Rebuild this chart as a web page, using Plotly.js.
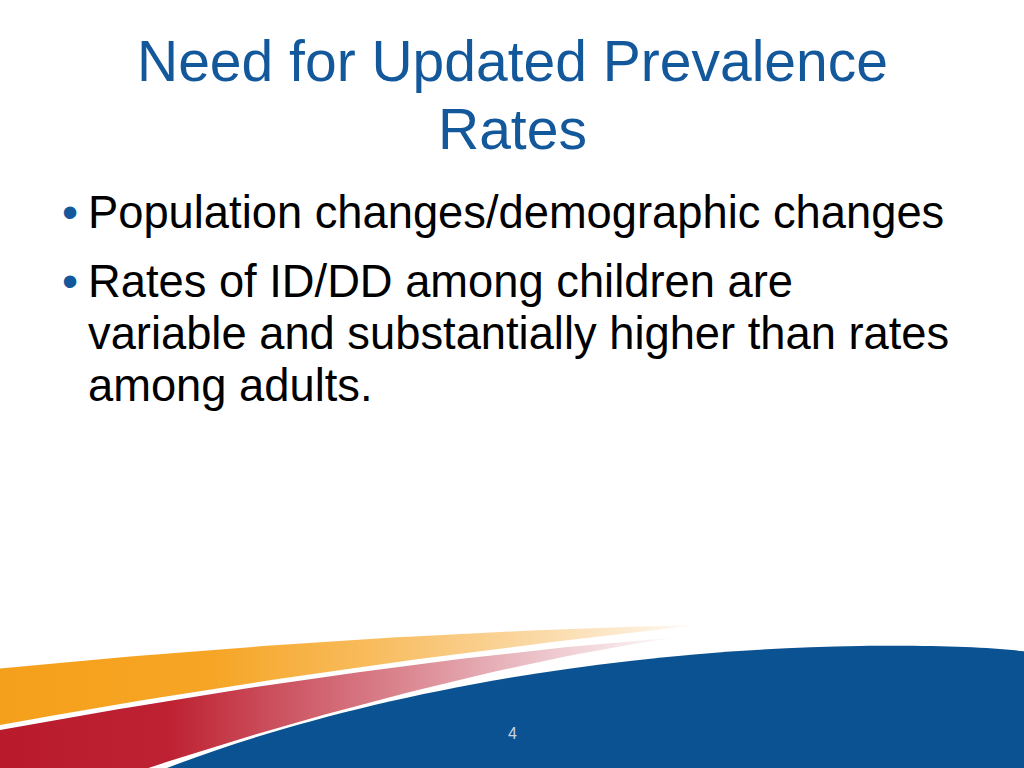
<!DOCTYPE html>
<html>
<head>
<meta charset="utf-8">
<script src="https://cdn.plot.ly/plotly-3.0.1.min.js"></script>
<style>html,body{margin:0;padding:0;background:#fff;}#chart{width:1024px;height:768px;}</style>
</head>
<body>
<div id="chart"></div>
<script>
// ---- slide content ----
const titleLines = ["Need for Updated Prevalence", "Rates"];
const bullets = [
  ["Population changes/demographic changes"],
  ["Rates of ID/DD among children are", "variable and substantially higher than rates", "among adults."]
];
const pageNumber = "4";

// ---- layout constants (pixel space: x 0..1024, y 0..768 downward) ----
const W = 1024, H = 768;
const titleY = [61, 129];
const bulletLineY = [[212], [281, 333, 385]];
const textX = 86, bulletX = 70;
const titleColor = "#14589C";
const blue = "#0A5291";

function bez(p0, p1, p2, p3, n) {
  const xs = [], ys = [];
  for (let i = 0; i <= n; i++) {
    const t = i / n, u = 1 - t;
    xs.push(u*u*u*p0[0] + 3*u*u*t*p1[0] + 3*u*t*t*p2[0] + t*t*t*p3[0]);
    ys.push(u*u*u*p0[1] + 3*u*u*t*p1[1] + 3*u*t*t*p2[1] + t*t*t*p3[1]);
  }
  return {x: xs, y: ys};
}
function band(top, bottom, corner) {
  const a = bez(...top, 60), b = bez(...bottom, 60);
  const x = a.x.concat(b.x.slice().reverse()), y = a.y.concat(b.y.slice().reverse());
  if (corner) { x.push(corner[0]); y.push(corner[1]); }
  return {x: x, y: y};
}

const orange = band(
  [[-5, 669], [230, 646], [470, 630], [700, 625]],
  [[-5, 726], [200, 688], [450, 652], [700, 625]]
);
const red = band(
  [[-5, 731], [220, 690], [450, 655], [680, 637]],
  [[40, 805], [300, 712], [540, 656], [680, 637]],
  [-5, 805]
);

const traces = [
  {
    x: orange.x, y: orange.y, type: "scatter", mode: "lines", fill: "toself",
    line: {width: 0, color: "rgba(0,0,0,0)"}, hoverinfo: "skip", showlegend: false,
    fillgradient: {type: "horizontal", start: 0, stop: 700,
      colorscale: [[0, "#F5A01B"], [0.3, "#F6A525"], [0.55, "#F8BE63"], [0.8, "#FBDDB0"], [0.93, "#FDF0DD"], [1, "#FFFFFF"]]}
  },
  {
    x: red.x, y: red.y, type: "scatter", mode: "lines", fill: "toself",
    line: {width: 0, color: "rgba(0,0,0,0)"}, hoverinfo: "skip", showlegend: false,
    fillgradient: {type: "horizontal", start: 0, stop: 680,
      colorscale: [[0, "#B91B2C"], [0.25, "#BE2232"], [0.4, "#CB4F5D"], [0.6, "#DB8892"], [0.78, "#EBC0C7"], [0.9, "#F5E1E5"], [1, "#FFFFFF"]]}
  }
];

const annotations = [];
titleLines.forEach((t, i) => annotations.push({
  x: W / 2, y: titleY[i], xref: "x", yref: "y", text: t, showarrow: false,
  xanchor: "center", yanchor: "middle",
  font: {family: "Liberation Sans, Arial, sans-serif", size: 57, color: titleColor}
}));
bullets.forEach((lines, bi) => {
  annotations.push({
    x: bulletX, y: bulletLineY[bi][0], xref: "x", yref: "y", text: "•", showarrow: false,
    xanchor: "center", yanchor: "middle",
    font: {family: "Liberation Sans, Arial, sans-serif", size: 46, color: titleColor}
  });
  lines.forEach((t, li) => annotations.push({
    x: textX, y: bulletLineY[bi][li], xref: "x", yref: "y", text: t, showarrow: false,
    xanchor: "left", yanchor: "middle",
    font: {family: "Liberation Sans, Arial, sans-serif", size: 45.3, color: "#000000"}
  }));
});
annotations.push({
  x: W / 2, y: 733, xref: "x", yref: "y", text: pageNumber, showarrow: false,
  xanchor: "center", yanchor: "middle",
  font: {family: "Liberation Sans, Arial, sans-serif", size: 16, color: "#C9D4E2"}
});

const layout = {
  width: W, height: H,
  margin: {l: 0, r: 0, t: 0, b: 0, pad: 0},
  paper_bgcolor: "#FFFFFF", plot_bgcolor: "#FFFFFF",
  xaxis: {range: [0, W], visible: false, fixedrange: true},
  yaxis: {range: [H, 0], visible: false, fixedrange: true},
  showlegend: false,
  shapes: [{
    type: "path", xref: "x", yref: "y", layer: "above",
    path: "M 140 800 L 167 768 C 330 705 580 650 860 646 C 950 645 1000 648 1040 653 L 1040 800 Z",
    fillcolor: blue, line: {width: 0}
  }],
  annotations: annotations
};

Plotly.newPlot("chart", traces, layout, {displayModeBar: false, staticPlot: true});
</script>
</body>
</html>
